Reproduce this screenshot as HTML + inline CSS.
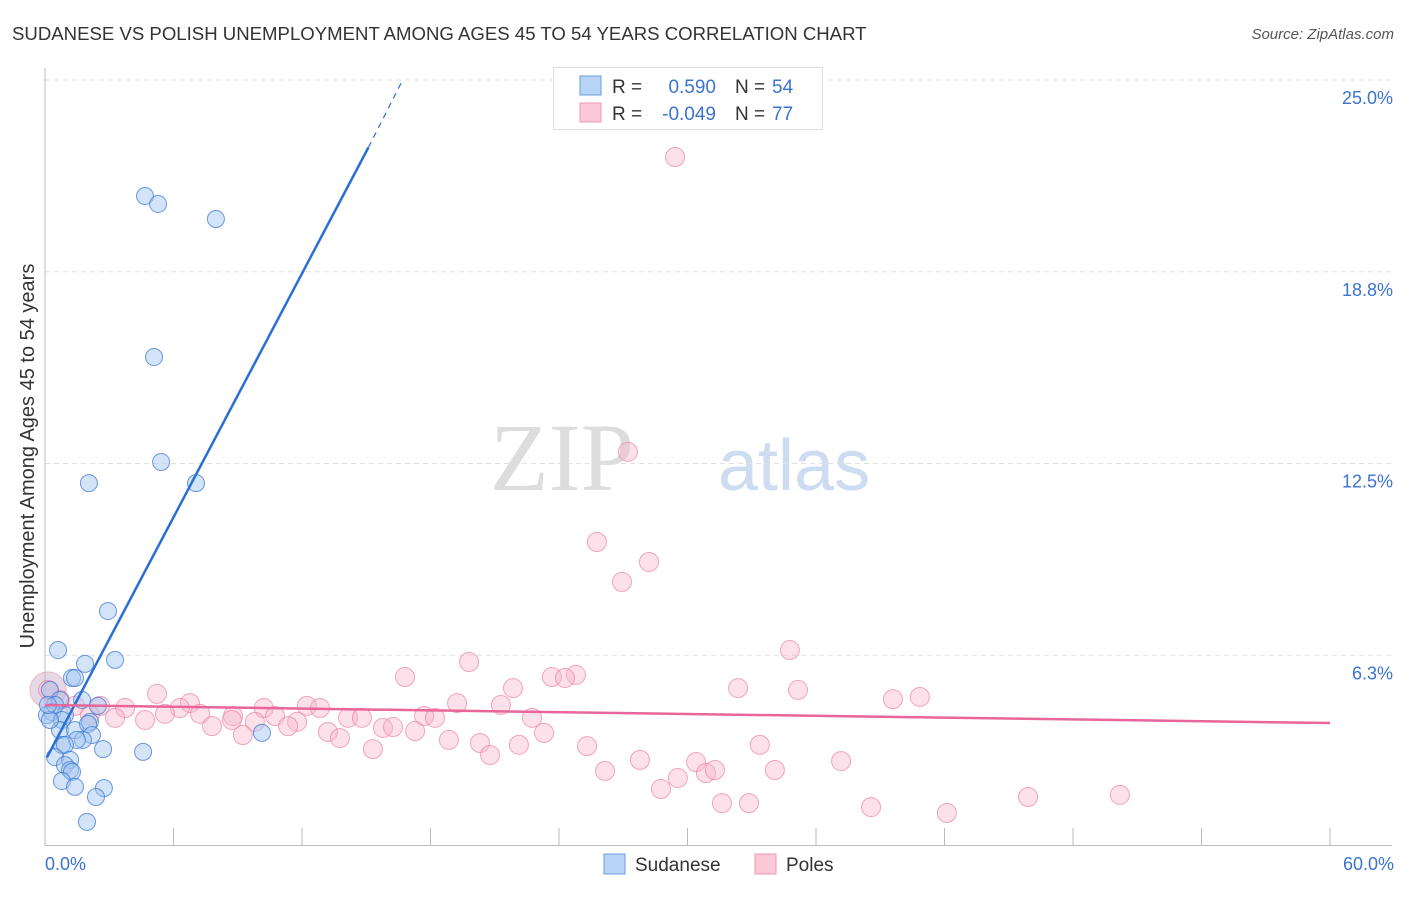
<!DOCTYPE html>
<html><head><meta charset="utf-8">
<style>
body{margin:0;background:#fff;font-family:"Liberation Sans",sans-serif;}
svg text{font-family:"Liberation Sans",sans-serif;}
</style></head>
<body>
<svg id="chart" width="1406" height="892" xmlns="http://www.w3.org/2000/svg">
<text x="12" y="40" font-size="18.6" fill="#333">SUDANESE VS POLISH UNEMPLOYMENT AMONG AGES 45 TO 54 YEARS CORRELATION CHART</text>
<text x="1394" y="39" font-size="15" fill="#555" font-style="italic" text-anchor="end">Source: ZipAtlas.com</text>
<g>
<text x="634" y="490" font-size="96" fill="#ddd" text-anchor="end" style="font-family:'Liberation Serif',serif">ZIP</text>
<text x="718" y="490" font-size="72" fill="#cddcf0">atlas</text>
</g>
<g id="grid"></g>
<line x1="45" y1="68" x2="45" y2="846" stroke="#bbb"/>
<line x1="45" y1="845.5" x2="1392" y2="845.5" stroke="#bbb"/>
<text transform="translate(34,456) rotate(-90)" font-size="20" fill="#333" text-anchor="middle">Unemployment Among Ages 45 to 54 years</text>
<text x="45" y="870" font-size="18" fill="#3a74d0">0.0%</text>
<text x="1394" y="870" font-size="18" fill="#3a74d0" text-anchor="end">60.0%</text>
<g id="pts"></g>
<g id="lines"></g>
<g>
<rect x="553.5" y="67.5" width="269" height="62" fill="#fff" stroke="#ddd"/>
<rect x="580" y="76" width="21" height="19" fill="#b7d3f5" stroke="#6a9de0"/>
<rect x="580" y="103" width="21" height="19" fill="#fbc8d8" stroke="#ee9ab5"/>
<text x="612" y="93" font-size="19" fill="#333">R =</text>
<text x="716" y="93" font-size="19" fill="#3a74d0" text-anchor="end">0.590</text>
<text x="735" y="93" font-size="19" fill="#333">N =</text>
<text x="772" y="93" font-size="19" fill="#3a74d0">54</text>
<text x="612" y="120" font-size="19" fill="#333">R =</text>
<text x="716" y="120" font-size="19" fill="#3a74d0" text-anchor="end">-0.049</text>
<text x="735" y="120" font-size="19" fill="#333">N =</text>
<text x="772" y="120" font-size="19" fill="#3a74d0">77</text>
</g>
<g>
<rect x="604" y="854" width="21" height="20" fill="#b7d3f5" stroke="#6a9de0"/>
<text x="635" y="871" font-size="19" fill="#333">Sudanese</text>
<rect x="755" y="854" width="21" height="20" fill="#fbc8d8" stroke="#ee9ab5"/>
<text x="786" y="871" font-size="19" fill="#333">Poles</text>
</g>
</svg>
<script>
const yTicks=[6.25,12.5,18.75,25];
const yTickLabels=["6.3%","12.5%","18.8%","25.0%"];
const xTicks=[0,6,12,18,24,30,36,42,48,54,60];
const sudX=[4.67,5.28,7.98,5.09,5.42,2.05,7.05,2.94,0.61,3.27,1.87,1.26,1.40,0.23,0.70,1.73,2.47,0.33,0.09,0.93,0.47,0.79,2.10,0.70,1.40,2.01,2.19,1.77,1.49,0.79,0.93,2.71,4.58,10.13,0.47,1.17,0.93,1.17,1.26,0.79,1.40,2.75,2.38,1.96,0.23,0.14];
const sudY=[21.22,20.96,20.47,15.97,12.55,11.86,11.86,7.69,6.42,6.10,5.97,5.51,5.51,5.12,4.79,4.79,4.60,4.40,4.30,4.30,4.63,4.14,4.08,3.81,3.81,4.01,3.65,3.49,3.49,3.33,3.33,3.19,3.10,3.72,2.93,2.84,2.67,2.51,2.45,2.15,1.96,1.92,1.63,0.82,4.14,4.63];
const polX=[29.42,27.22,25.77,28.20,26.94,34.78,19.80,16.81,24.79,23.67,24.28,21.85,32.36,35.16,40.85,39.59,5.23,6.77,19.24,21.29,12.23,12.84,10.22,6.30,3.74,2.57,0.70,1.40,2.10,5.60,7.24,8.78,10.74,8.73,14.15,14.80,17.70,18.21,22.74,4.67,3.27,11.77,7.80,11.35,15.78,16.25,17.28,9.80,9.24,13.21,13.77,23.30,18.86,20.31,22.13,25.31,15.31,20.78,27.78,30.40,33.38,30.86,31.28,34.08,26.15,37.17,29.55,28.76,31.61,32.87,38.57,42.11,45.90,50.19,0.14];
const polY=[22.49,12.88,9.94,9.29,8.64,6.42,6.03,5.54,5.61,5.54,5.51,5.18,5.18,5.12,4.89,4.82,4.99,4.69,4.69,4.63,4.60,4.53,4.53,4.53,4.53,4.60,4.79,4.60,4.30,4.34,4.34,4.27,4.27,4.14,4.21,4.21,4.27,4.21,4.21,4.14,4.21,4.08,3.94,3.94,3.88,3.91,3.78,4.08,3.65,3.75,3.55,3.72,3.49,3.39,3.33,3.29,3.19,3.00,2.84,2.77,3.33,2.41,2.51,2.51,2.48,2.80,2.25,1.89,1.43,1.43,1.30,1.11,1.63,1.70,5.12];
const sudTrend=[0.09,2.92,15.1,22.8,16.7,25.0];
const polTrend=[0,4.63,60,4.04];
const X=v=>45+v/60*1285, Y=v=>847-v*30.68;
const NS="http://www.w3.org/2000/svg";
function mk(t,a,p){const e=document.createElementNS(NS,t);for(const k in a)e.setAttribute(k,a[k]);p.appendChild(e);return e;}
const grid=document.getElementById('grid');
yTicks.forEach((v,i)=>{
 const l=mk('line',{x1:45,x2:1392,y1:Y(v),y2:Y(v),stroke:'#e0e0e0','stroke-dasharray':'5,4'},grid);
 
 
 const t=mk('text',{x:1393,y:Y(v)+24,'font-size':18,fill:'#3a74d0','text-anchor':'end'},grid);
 t.textContent=yTickLabels[i];
 
 
});
xTicks.forEach(v=>{
 const l=mk('line',{x1:X(v),x2:X(v),y1:828,y2:846,stroke:'#bbb'},grid);
 
 
});
const pts=document.getElementById('pts');
const big=mk('circle',{cx:X(0.14),cy:Y(5.12),r:18,fill:'rgba(200,170,200,0.45)',stroke:'rgba(238,154,181,0.7)'},pts);


polX.forEach((x,i)=>{
 const c=mk('circle',{cx:X(x),cy:Y(polY[i]),r:9.5,fill:'rgba(248,180,202,0.4)',stroke:'rgba(236,130,165,0.7)'},pts);
 
 
});
sudX.forEach((x,i)=>{
 const c=mk('circle',{cx:X(x),cy:Y(sudY[i]),r:8.5,fill:'rgba(160,196,240,0.45)',stroke:'rgba(60,120,210,0.75)'},pts);
 
 
});
const lines=document.getElementById('lines');
const b=mk('line',{x1:X(sudTrend[0]),y1:Y(sudTrend[1]),x2:X(sudTrend[2]),y2:Y(sudTrend[3]),stroke:'#2a6fd6','stroke-width':2.5},lines);


const bd=mk('line',{x1:X(sudTrend[2]),y1:Y(sudTrend[3]),x2:X(sudTrend[4]),y2:Y(sudTrend[5]),stroke:'#2a6fd6','stroke-width':1.2,'stroke-dasharray':'6,5'},lines);


const p=mk('line',{x1:X(polTrend[0]),y1:Y(polTrend[1]),x2:X(polTrend[2]),y2:Y(polTrend[3]),stroke:'#e8669a','stroke-width':2.5},lines);


</script>
</body></html>
